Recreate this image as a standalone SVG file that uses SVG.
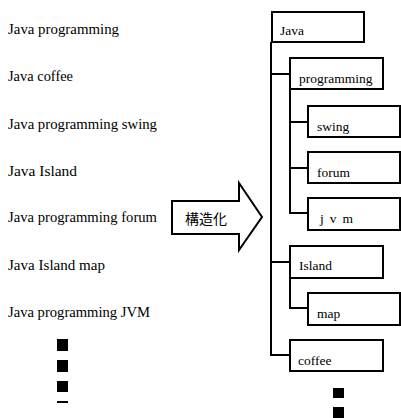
<svg xmlns="http://www.w3.org/2000/svg" width="401" height="418" viewBox="0 0 401 418">
<style>
text{font-family:"Liberation Serif","Times New Roman",serif;font-size:13.5px;fill:#000}
.lst{font-size:14.5px}
.box{fill:#fff;stroke:#000;stroke-width:2}
.ln{fill:none;stroke:#000;stroke-width:2}
.dot{fill:#000}
</style>
<rect width="401" height="418" fill="#fff"/>
<g id="source-list">
<text class="lst" x="8" y="34" textLength="111" lengthAdjust="spacingAndGlyphs">Java programming</text>
<text class="lst" x="8" y="81" textLength="65" lengthAdjust="spacingAndGlyphs">Java coffee</text>
<text class="lst" x="8" y="129" textLength="149" lengthAdjust="spacingAndGlyphs">Java programming swing</text>
<text class="lst" x="8" y="176" textLength="69" lengthAdjust="spacingAndGlyphs">Java Island</text>
<text class="lst" x="8" y="222" textLength="149" lengthAdjust="spacingAndGlyphs">Java programming forum</text>
<text class="lst" x="8" y="270" textLength="97" lengthAdjust="spacingAndGlyphs">Java Island map</text>
<text class="lst" x="8" y="317" textLength="142" lengthAdjust="spacingAndGlyphs">Java programming JVM</text>
<rect class="dot" x="57" y="339" width="11" height="12"/>
<rect class="dot" x="57" y="360" width="11" height="12"/>
<rect class="dot" x="57" y="381" width="11" height="11"/>
<rect class="dot" x="57" y="401" width="11" height="2"/>
</g>
<g id="arrow">
<path class="ln" d="M172,201 L239,201 L239,183 L262,217 L239,250 L239,234 L172,234 Z"/>
<text x="206" y="224" text-anchor="middle" style="font-family:'Noto Sans CJK JP','Noto Sans CJK SC',sans-serif;font-size:14px">構造化</text>
</g>
<g id="connectors">
<path class="ln" d="M271,42 V355 H290 M271,74 H290 M271,262 H290"/>
<path class="ln" d="M290,89 V213 H308 M290,122 H308 M290,168 H308"/>
<path class="ln" d="M290,278 V308 H308"/>
</g>
<g id="n-java"><rect class="box" x="272" y="12" width="92" height="30"/><text x="280" y="35">Java</text></g>
<g id="n-programming"><rect class="box" x="290" y="58" width="93" height="31"/><text x="299" y="83">programming</text></g>
<g id="n-swing"><rect class="box" x="308" y="106" width="92" height="31"/><text x="317" y="131">swing</text></g>
<g id="n-forum"><rect class="box" x="308" y="152" width="92" height="31"/><text x="317" y="177">forum</text></g>
<g id="n-jvm"><rect class="box" x="308" y="198" width="92" height="32"/><text x="320" y="223" textLength="33" lengthAdjust="spacing">j v m</text></g>
<g id="n-island"><rect class="box" x="290" y="246" width="93" height="32"/><text x="299" y="270">Island</text></g>
<g id="n-map"><rect class="box" x="308" y="293" width="92" height="32"/><text x="317" y="318">map</text></g>
<g id="n-coffee"><rect class="box" x="290" y="340" width="93" height="31"/><text x="298" y="365">coffee</text></g>
<g id="more">
<rect class="dot" x="333" y="388" width="11" height="10"/>
<rect class="dot" x="333" y="407" width="11" height="11"/>
</g>
</svg>
